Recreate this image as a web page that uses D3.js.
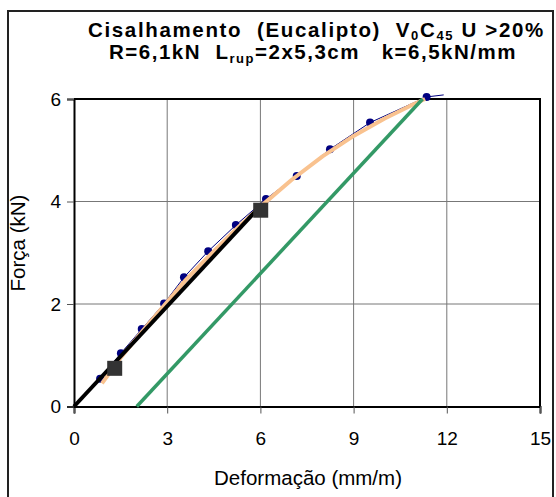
<!DOCTYPE html>
<html>
<head>
<meta charset="utf-8">
<script src="https://cdn.jsdelivr.net/npm/d3@7"></script>
<style>
  body { margin: 0; background: #fff; }
  text { font-family: "Liberation Sans", Arial, sans-serif; }
</style>
</head>
<body>
<div id="chart"></div>
<script>
// measured points (Deformação mm/m, Força kN)
var ensaioX = [0.84, 1.51, 2.18, 2.90, 3.54, 4.32, 5.21, 6.18, 7.17, 8.24, 9.53, 11.35, 11.90];
var ensaioY = [0.54, 1.04, 1.51, 2.01, 2.52, 3.03, 3.54, 4.05, 4.50, 5.02, 5.54, 6.04, 6.08];

// fitted curve
var ajusteX = [0.9, 1.5, 2.2, 2.9, 3.6, 4.4, 5.2, 6.0, 7.0, 8.0, 9.0, 10.0, 10.8, 11.3];
var ajusteY = [0.45, 0.95, 1.47, 1.97, 2.47, 2.97, 3.45, 3.90, 4.42, 4.88, 5.28, 5.62, 5.86, 6.0];

// elastic line and offset line
var retaX = [0, 5.95];
var retaY = [0, 3.88];
var paralelaX = [2.02, 11.22];
var paralelaY = [0, 6.0];

// 10% and 40% points
var pontosX = [1.31, 6.01];
var pontosY = [0.745, 3.83];

var xTicks = [0, 3, 6, 9, 12, 15];
var yTicks = [0, 2, 4, 6];

var width = 556, height = 497;
var margins = {top: 99, right: 16, bottom: 90.5, left: 74};
var w = width - margins.left - margins.right,
    h = height - margins.top - margins.bottom;

var svg = d3.select('#chart').append('svg')
    .attr('width', width)
    .attr('height', height);

// outer frame
svg.append('rect')
    .attr('x', 8).attr('y', 11)
    .attr('width', 545).attr('height', 500)
    .style('fill', 'none')
    .style('stroke', '#222')
    .style('stroke-width', 2);

// stretch a text to a given width, like the spreadsheet does
function spread(t, target) {
    var n = t.text().length;
    var bw = t.node().getBBox().width;
    t.style('letter-spacing', ((target - bw) / n) + 'px');
}

// title
var title = svg.append('text')
    .attr('x', 316.5).attr('y', 37)
    .attr('text-anchor', 'middle')
    .style('white-space', 'pre')
    .style('font-weight', 'bold')
    .style('font-size', '20.5px');
title.append('tspan').text('Cisalhamento  (Eucalipto)  V');
title.append('tspan').attr('dy', 3).style('font-size', '13px').text('0');
title.append('tspan').attr('dy', -3).text('C');
title.append('tspan').attr('dy', 3).style('font-size', '13px').text('45');
title.append('tspan').attr('dy', -3).text(' U >20%');
spread(title, 457);

var title2 = svg.append('text')
    .attr('x', 313).attr('y', 59)
    .attr('text-anchor', 'middle')
    .style('white-space', 'pre')
    .style('font-weight', 'bold')
    .style('font-size', '20.5px');
title2.append('tspan').text('R=6,1kN  L');
title2.append('tspan').attr('dy', 4).style('font-size', '13px').text('rup');
title2.append('tspan').attr('dy', -4).text('=2x5,3cm   k=6,5kN/mm');
spread(title2, 408);

var g = svg.append('g')
    .attr('transform', 'translate(' + margins.left + ',' + margins.top + ')');

var x = d3.scaleLinear().domain([0, 15]).range([0, w]);
var y = d3.scaleLinear().domain([0, 6]).range([h, 0]);

// grid
g.append('g').selectAll('line')
    .data(xTicks.slice(1, -1))
    .enter().append('line')
    .attr('x1', function(d) { return x(d); })
    .attr('x2', function(d) { return x(d); })
    .attr('y1', 0).attr('y2', h)
    .style('stroke', '#777').style('stroke-width', 1);

g.append('g').selectAll('line')
    .data(yTicks.slice(1, -1))
    .enter().append('line')
    .attr('y1', function(d) { return y(d); })
    .attr('y2', function(d) { return y(d); })
    .attr('x1', 0).attr('x2', w)
    .style('stroke', '#777').style('stroke-width', 1);

// top and right border
g.append('path')
    .attr('d', 'M0,0H' + w + 'V' + h)
    .style('fill', 'none')
    .style('stroke', '#000')
    .style('stroke-width', 2);

// axes
var xAxis = g.append('g')
    .attr('transform', 'translate(0,' + h + ')')
    .call(d3.axisBottom(x).tickValues(xTicks).tickSize(7).tickPadding(18).tickFormat(d3.format('d')));
var yAxis = g.append('g')
    .call(d3.axisLeft(y).tickValues(yTicks).tickSize(7).tickPadding(6).tickFormat(d3.format('d')));

[xAxis, yAxis].forEach(function(a) {
    a.select('.domain').style('stroke', '#000').style('stroke-width', 2);
    a.selectAll('.tick line').style('stroke', '#555');
    a.selectAll('.tick text')
        .style('font-size', '19px')
        .style('font-family', '"Liberation Sans", Arial, sans-serif')
        .style('fill', '#000');
});

var line = d3.line()
    .x(function(d) { return x(d[0]); })
    .y(function(d) { return y(d[1]); });

var zip = function(a, b) { return a.map(function(v, i) { return [v, b[i]]; }); };

var ensaio = zip(ensaioX, ensaioY);

// measured series
g.append('path')
    .datum(ensaio)
    .attr('d', line)
    .style('fill', 'none')
    .style('stroke', '#000080')
    .style('stroke-width', 1);

g.selectAll('circle.ensaio')
    .data(ensaio.slice(0, -1))
    .enter().append('circle')
    .attr('class', 'ensaio')
    .attr('cx', function(d) { return x(d[0]); })
    .attr('cy', function(d) { return y(d[1]); })
    .attr('r', 4)
    .style('fill', '#000080');

// fit
g.append('path')
    .datum(zip(ajusteX, ajusteY))
    .attr('d', line)
    .style('fill', 'none')
    .style('stroke', '#F9C28F')
    .style('stroke-width', 4)
    .style('stroke-linejoin', 'round');

// offset line
g.append('path')
    .datum(zip(paralelaX, paralelaY))
    .attr('d', line)
    .style('fill', 'none')
    .style('stroke', '#339966')
    .style('stroke-width', 3.5);

// elastic line
g.append('path')
    .datum(zip(retaX, retaY))
    .attr('d', line)
    .style('fill', 'none')
    .style('stroke', '#000')
    .style('stroke-width', 4);

g.selectAll('rect.ponto')
    .data(zip(pontosX, pontosY))
    .enter().append('rect')
    .attr('class', 'ponto')
    .attr('x', function(d) { return x(d[0]) - 7.5; })
    .attr('y', function(d) { return y(d[1]) - 7.5; })
    .attr('width', 15).attr('height', 15)
    .style('fill', '#333');

// axis titles
svg.append('text')
    .attr('x', 308).attr('y', 485)
    .attr('text-anchor', 'middle')
    .style('font-size', '20.5px')
    .text('Deformação (mm/m)');

svg.append('text')
    .attr('transform', 'translate(25,243) rotate(-90)')
    .attr('text-anchor', 'middle')
    .style('font-size', '20.5px')
    .text('Força (kN)');
</script>
</body>
</html>
